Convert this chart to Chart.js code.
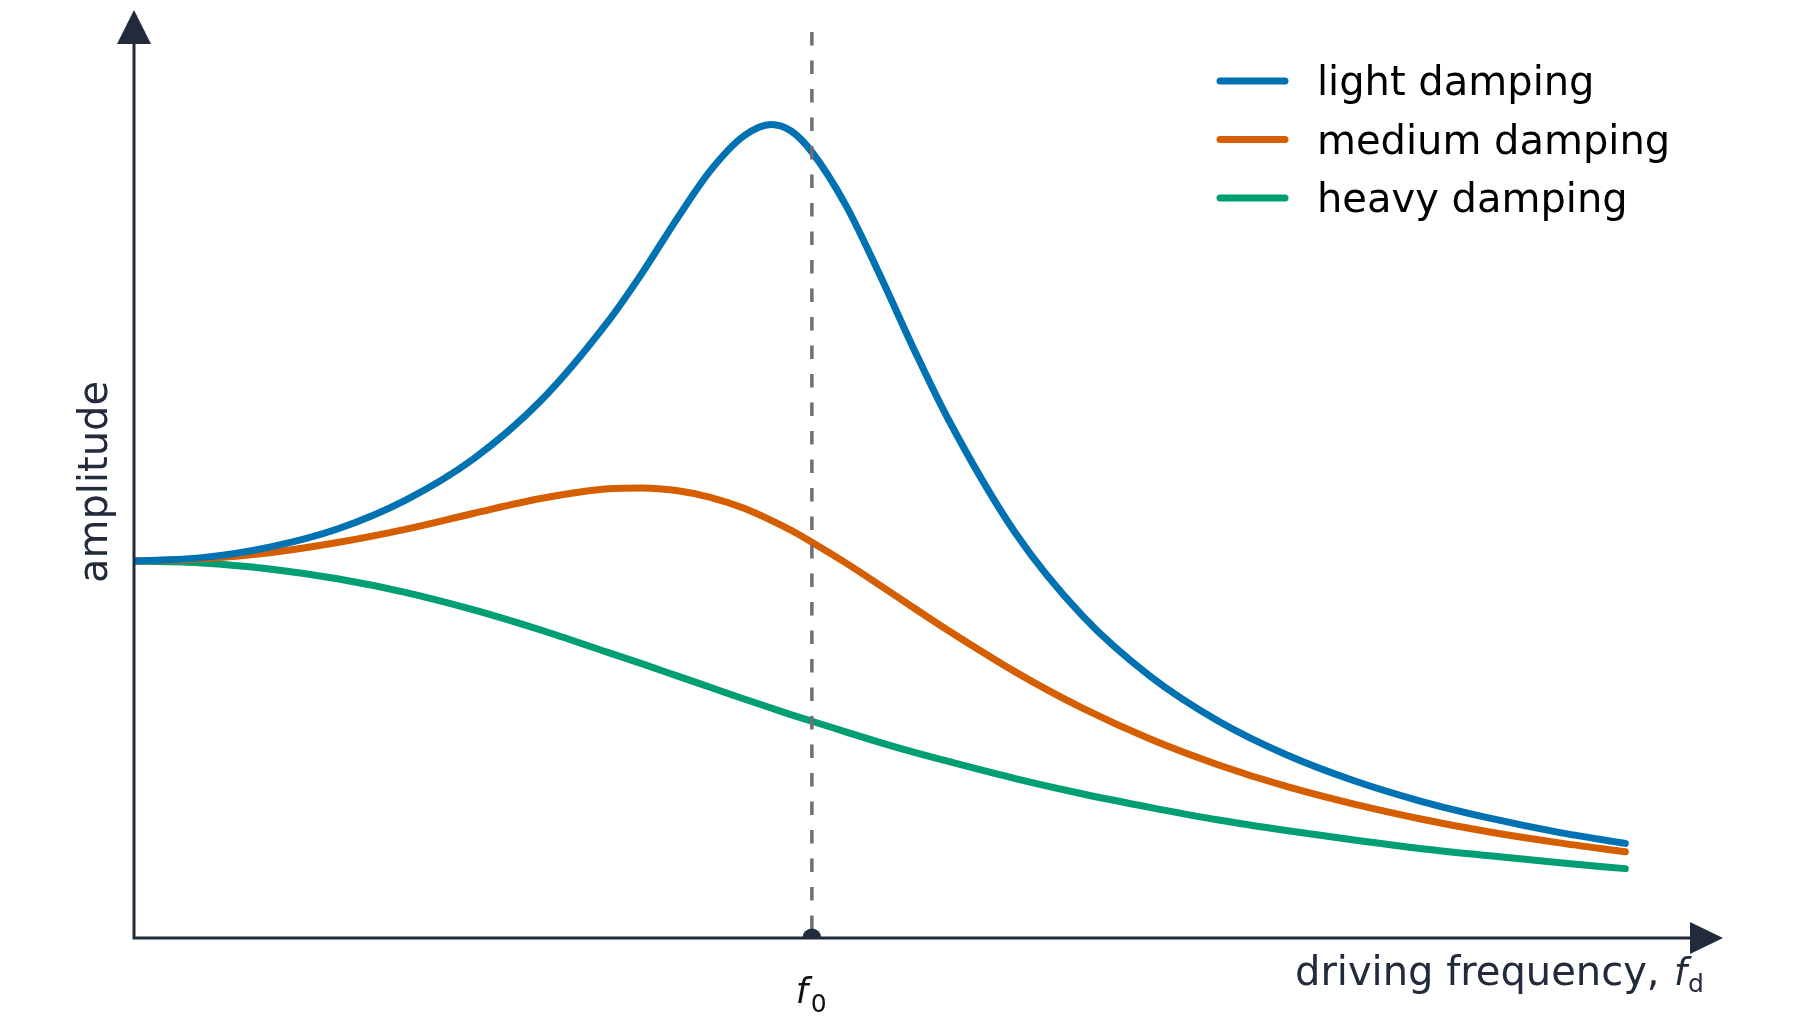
<!DOCTYPE html>
<html>
<head>
<meta charset="utf-8">
<title>Resonance curves</title>
<script src="https://cdn.jsdelivr.net/npm/chart.js@4.4.0/dist/chart.umd.min.js"></script>
<style>
  html, body { margin: 0; padding: 0; background: #ffffff; }
  #wrap { width: 1800px; height: 1030px; }
</style>
</head>
<body>
<div id="wrap"><canvas id="resonance" width="1800" height="1030"></canvas></div>
<script>
// driving frequency as a ratio of f0, and the amplitude
var freqRatio = [0, 0.1, 0.2, 0.3, 0.4, 0.5, 0.6, 0.7, 0.75, 0.8, 0.85, 0.9, 0.94, 0.97, 1.0, 1.05, 1.1, 1.15, 1.2, 1.3, 1.4, 1.5, 1.6, 1.7, 1.8, 1.9, 2.0, 2.1, 2.2];
var lightDamping  = [1, 1.009, 1.037, 1.085, 1.161, 1.270, 1.425, 1.637, 1.765, 1.905, 2.035, 2.128, 2.158, 2.140, 2.085, 1.944, 1.760, 1.564, 1.380, 1.075, 0.853, 0.693, 0.575, 0.486, 0.417, 0.362, 0.318, 0.281, 0.251];
var mediumDamping = [1, 1.006, 1.022, 1.049, 1.084, 1.126, 1.166, 1.192, 1.194, 1.187, 1.169, 1.140, 1.108, 1.081, 1.050, 0.995, 0.936, 0.876, 0.817, 0.706, 0.609, 0.527, 0.459, 0.402, 0.355, 0.315, 0.281, 0.253, 0.229];
var heavyDamping  = [1, 0.995, 0.979, 0.953, 0.917, 0.871, 0.817, 0.757, 0.727, 0.696, 0.665, 0.634, 0.610, 0.592, 0.575, 0.547, 0.519, 0.493, 0.469, 0.423, 0.382, 0.346, 0.313, 0.285, 0.260, 0.237, 0.218, 0.200, 0.184];
var seriesLabels = ["light damping", "medium damping", "heavy damping"];
var seriesColors = ["#0072b2", "#d55e00", "#009e73"];
var naturalFreq = 1;

var axisColor = "#212b3b";
var fontFamily = "'DejaVu Sans', 'Liberation Sans', sans-serif";

function toPoints(values) {
  return values.map(function (v, i) { return { x: freqRatio[i], y: v }; });
}

// axes with arrow heads, the f0 marker, labels and the legend
var decorations = {
  id: 'decorations',
  afterDatasetsDraw: function (chart) {
    var ctx = chart.ctx;
    var xs = chart.scales.x, ys = chart.scales.y;
    var x0 = xs.getPixelForValue(0);
    var y0 = ys.getPixelForValue(0);
    var xf = xs.getPixelForValue(naturalFreq);
    var right = chart.chartArea.right;
    var top = chart.chartArea.top;

    ctx.save();
    // dashed line at f0
    ctx.strokeStyle = "#6b6f78";
    ctx.lineWidth = 3.5;
    ctx.setLineDash([13.5, 15]);
    ctx.beginPath();
    ctx.moveTo(xf, 32);
    ctx.lineTo(xf, y0);
    ctx.stroke();
    ctx.setLineDash([]);

    // axes
    ctx.strokeStyle = axisColor;
    ctx.fillStyle = axisColor;
    ctx.lineWidth = 3;
    ctx.beginPath();
    ctx.moveTo(x0, y0);
    ctx.lineTo(x0, top + 30);
    ctx.moveTo(x0 - 1.5, y0);
    ctx.lineTo(right - 35, y0);
    ctx.stroke();

    ctx.beginPath();
    ctx.moveTo(x0, top - 1);
    ctx.lineTo(x0 - 17, top + 33);
    ctx.lineTo(x0 + 17, top + 33);
    ctx.closePath();
    ctx.fill();

    ctx.beginPath();
    ctx.moveTo(right - 4, y0);
    ctx.lineTo(right - 37, y0 - 16);
    ctx.lineTo(right - 37, y0 + 16);
    ctx.closePath();
    ctx.fill();

    // marker at f0, clipped by the axis
    ctx.beginPath();
    ctx.arc(xf, y0, 9.5, Math.PI, 2 * Math.PI);
    ctx.closePath();
    ctx.fill();

    // f0 label
    ctx.fillStyle = "#111111";
    ctx.textBaseline = "alphabetic";
    ctx.textAlign = "left";
    ctx.font = "italic 35px " + fontFamily;
    ctx.fillText("f", xf - 16, 1003);
    ctx.font = "25px " + fontFamily;
    ctx.fillText("0", xf - 1, 1012);

    // x axis title
    ctx.fillStyle = axisColor;
    ctx.font = "40px " + fontFamily;
    ctx.fillText("driving frequency,", 1295, 985);
    ctx.font = "italic 37px " + fontFamily;
    ctx.fillText("f", 1674, 985);
    ctx.font = "25px " + fontFamily;
    ctx.fillText("d", 1688, 992);

    // y axis title
    ctx.save();
    ctx.translate(97, 482);
    ctx.rotate(-Math.PI / 2);
    ctx.textAlign = "center";
    ctx.textBaseline = "middle";
    ctx.font = "40px " + fontFamily;
    ctx.fillText("amplitude", 0, 0);
    ctx.restore();

    // legend
    ctx.lineCap = "round";
    ctx.lineWidth = 7;
    ctx.font = "40px " + fontFamily;
    ctx.textAlign = "left";
    ctx.textBaseline = "alphabetic";
    for (var i = 0; i < seriesLabels.length; i++) {
      var ly = 81 + i * 58.5;
      ctx.strokeStyle = seriesColors[i];
      ctx.beginPath();
      ctx.moveTo(1220, ly);
      ctx.lineTo(1285, ly);
      ctx.stroke();
      ctx.fillStyle = "#000000";
      ctx.fillText(seriesLabels[i], 1317, ly + 14);
    }
    ctx.restore();
  }
};

var chart = new Chart(document.getElementById("resonance"), {
  type: 'line',
  data: {
    datasets: [
      { label: seriesLabels[0], data: toPoints(lightDamping),  borderColor: seriesColors[0] },
      { label: seriesLabels[1], data: toPoints(mediumDamping), borderColor: seriesColors[1] },
      { label: seriesLabels[2], data: toPoints(heavyDamping),  borderColor: seriesColors[2] }
    ]
  },
  options: {
    responsive: false,
    animation: false,
    devicePixelRatio: 1,
    layout: { padding: { left: 134, top: 11, right: 73, bottom: 92 } },
    elements: {
      line: { borderWidth: 7, cubicInterpolationMode: 'monotone', borderCapStyle: 'round', fill: false },
      point: { radius: 0, hoverRadius: 0 }
    },
    scales: {
      x: { type: 'linear', min: 0, max: 2.35, display: false },
      y: { type: 'linear', min: 0, max: 2.459, display: false }
    },
    plugins: {
      legend: { display: false },
      tooltip: { enabled: false }
    }
  },
  plugins: [decorations]
});
</script>
</body>
</html>
